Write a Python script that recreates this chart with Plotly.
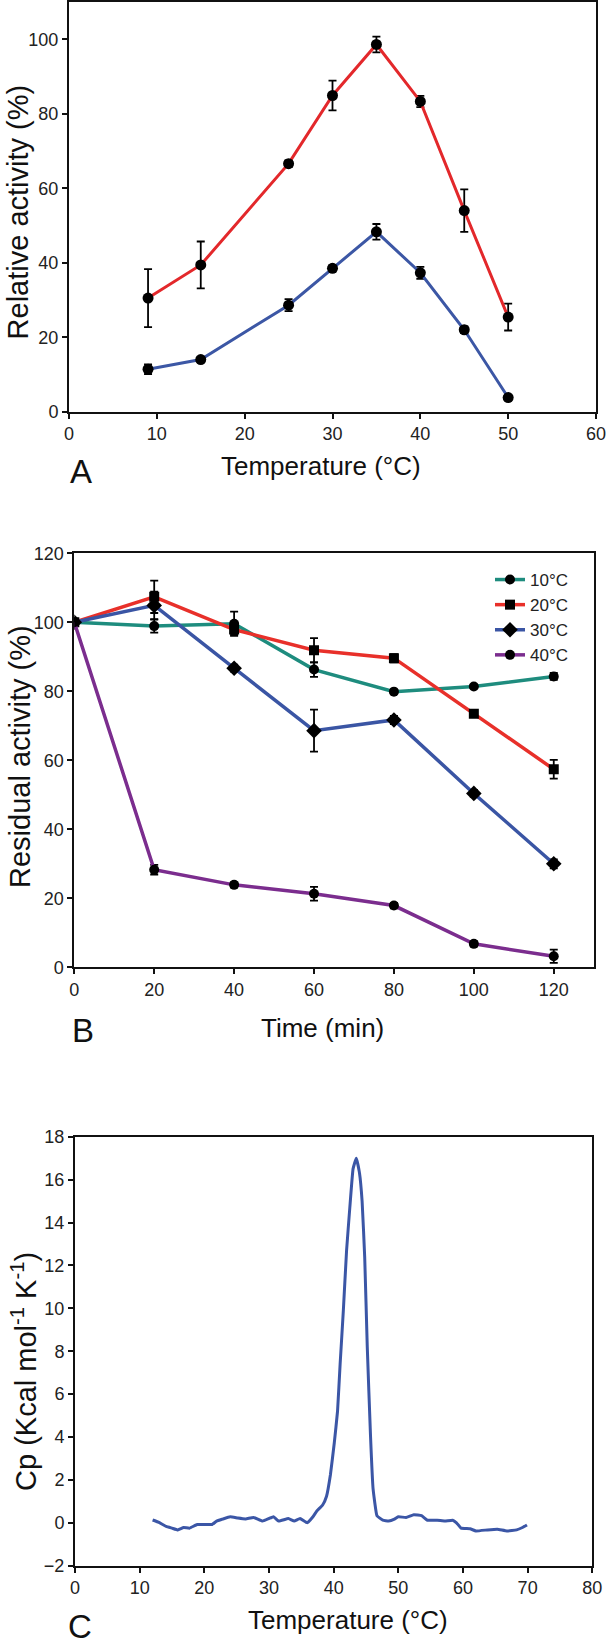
import plotly.graph_objects as go

# %% Daten Panel A: Temperaturoptimum
temp_a = [9, 15, 25, 30, 35, 40, 45, 50]
rot_a = [30.5, 39.4, 66.6, 84.9, 98.6, 83.3, 54.0, 25.4]
rot_a_err = [7.8, 6.3, 0.9, 4.0, 2.1, 1.5, 5.7, 3.6]
blau_a = [11.4, 14.0, 28.6, 38.5, 48.3, 37.3, 22.0, 3.8]
blau_a_err = [1.3, 0.7, 1.6, 0.8, 2.1, 1.6, 0.9, 0.5]

# %% Daten Panel B: Stabilitaet ueber Zeit
zeit_b = [0, 20, 40, 60, 80, 100, 120]
namen_b = ["10°C", "20°C", "30°C", "40°C"]
werte_10 = [100, 98.9, 99.6, 86.3, 79.9, 81.4, 84.3]
fehler_10 = [0.5, 1.9, 3.5, 2.1, 0.6, 0.5, 1.0]
werte_20 = [100, 107.4, 97.9, 91.9, 89.6, 73.5, 57.4]
fehler_20 = [0.5, 4.7, 1.5, 3.5, 1.2, 1.0, 2.7]
werte_30 = [100, 104.9, 86.7, 68.6, 71.7, 50.4, 30.0]
fehler_30 = [0.5, 4.0, 1.0, 6.1, 1.2, 1.0, 1.3]
werte_40 = [100, 28.3, 23.9, 21.3, 17.9, 6.8, 3.2]
fehler_40 = [0.5, 1.4, 0.7, 2.0, 0.8, 0.7, 1.9]

# %% Daten Panel C: DSC-Kurve
temp_c = [12.0, 12.9, 14.1, 15.0, 15.9, 16.8, 17.7, 18.9, 20.1, 21.2, 21.9, 22.8,
          24.0, 25.2, 26.4, 27.6, 29.0, 30.0, 30.7, 31.5, 33.0, 33.9, 34.8, 35.9,
          36.8, 37.4, 38.3, 38.9, 39.5, 40.1, 40.6, 41.0, 41.5, 42.0, 42.5, 43.0,
          43.5, 44.0, 44.4, 44.8, 45.2, 45.7, 46.1, 46.7, 47.6, 48.5, 49.4, 50.0,
          51.2, 52.4, 53.6, 54.5, 56.0, 57.2, 58.4, 59.0, 59.7, 61.1, 62.0, 63.8,
          65.3, 66.8, 68.3, 69.2, 69.9]
cp_c = [0.13, 0.03, -0.17, -0.25, -0.33, -0.22, -0.25, -0.08, -0.08, -0.08, 0.08, 0.17,
        0.28, 0.22, 0.18, 0.25, 0.08, 0.20, 0.28, 0.08, 0.20, 0.08, 0.20, 0.0,
        0.28, 0.55, 0.83, 1.24, 2.24, 3.73, 5.2, 7.4, 9.9, 12.7, 14.7, 16.5,
        17.0, 16.3, 15.0, 12.4, 8.2, 4.06, 1.58, 0.33, 0.12, 0.08, 0.17, 0.28,
        0.25, 0.38, 0.33, 0.12, 0.12, 0.08, 0.12, 0.0, -0.25, -0.28, -0.38, -0.33,
        -0.30, -0.38, -0.33, -0.22, -0.10]

# %% Farben
rot = "#e3282b"
blau = "#3c57a5"
farben_b = ["#1e8c7e", "#e8302a", "#3a55a4", "#7b2d8e"]
symbole_b = ["circle", "square", "diamond", "circle"]

W, H = 607, 1638
tick_font = dict(family="Liberation Sans Narrow, Arial Narrow, Liberation Sans, Arial", size=18, color="#222")
titel_font = "Liberation Sans, Arial, Helvetica"


def px_x(p):
    return p / W


def px_y(p):
    return 1 - p / H


fig = go.Figure()

# Panel A
for werte, fehler, farbe in [(rot_a, rot_a_err, rot), (blau_a, blau_a_err, blau)]:
    fig.add_trace(go.Scatter(
        x=temp_a, y=werte, mode="lines+markers",
        line=dict(color=farbe, width=3),
        marker=dict(color="black", size=11),
        error_y=dict(type="data", array=fehler, color="black", thickness=1.8, width=4),
        xaxis="x", yaxis="y", showlegend=False
    ))

# Panel B
for name, werte, fehler, farbe, symbol in zip(
        namen_b,
        [werte_10, werte_20, werte_30, werte_40],
        [fehler_10, fehler_20, fehler_30, fehler_40],
        farben_b, symbole_b):
    fig.add_trace(go.Scatter(
        x=zeit_b, y=werte, mode="lines+markers", name=name,
        line=dict(color=farbe, width=3.5),
        marker=dict(color="black", size=10 if symbol != "diamond" else 12, symbol=symbol),
        error_y=dict(type="data", array=fehler, color="black", thickness=1.8, width=4),
        xaxis="x2", yaxis="y2"
    ))

# Panel C
fig.add_trace(go.Scatter(
    x=temp_c, y=cp_c, mode="lines",
    line=dict(color="#3b56a6", width=3, shape="spline", smoothing=0.3),
    xaxis="x3", yaxis="y3", showlegend=False
))

achse = dict(
    showline=True, linecolor="#111", linewidth=2, mirror=True,
    ticks="outside", ticklen=5, tickwidth=2, tickcolor="#111",
    tickfont=tick_font, showgrid=False, zeroline=False, automargin=False
)

fig.update_layout(
    width=W, height=H,
    margin=dict(l=0, r=0, t=0, b=0),
    paper_bgcolor="white", plot_bgcolor="white",
    xaxis=dict(achse, domain=[px_x(69), px_x(596)], range=[0, 60], dtick=10, anchor="y"),
    yaxis=dict(achse, domain=[px_y(411.7), px_y(2)], range=[0, 110], tickvals=[0, 20, 40, 60, 80, 100], anchor="x"),
    xaxis2=dict(achse, domain=[px_x(74.3), px_x(593.7)], range=[0, 130], tickvals=[0, 20, 40, 60, 80, 100, 120], anchor="y2"),
    yaxis2=dict(achse, domain=[px_y(967.3), px_y(553.3)], range=[0, 120], dtick=20, anchor="x2"),
    xaxis3=dict(achse, domain=[px_x(75), px_x(592.3)], range=[0, 80], dtick=10, anchor="y3"),
    yaxis3=dict(achse, domain=[px_y(1565.7), px_y(1136.7)], range=[-2, 18], dtick=2, anchor="x3"),
    legend=dict(
        x=px_x(490), y=px_y(562), xanchor="left", yanchor="top",
        font=dict(family=titel_font, size=17, color="#222"),
        bgcolor="rgba(0,0,0,0)", tracegroupgap=0, itemwidth=30
    ),
)

# Achsentitel und Panelbuchstaben
texte = [
    ("Relative activity (%)", 18.4, 212, 29, -90),
    ("Temperature (°C)", 321, 466, 26, 0),
    ("A", 81, 472, 33, 0),
    ("Residual activity (%)", 20, 757, 29, -90),
    ("Time (min)", 322, 1028, 26, 0),
    ("B", 83, 1030, 33, 0),
    ("Cp (Kcal mol<sup>-1</sup> K<sup>-1</sup>)", 24, 1372, 29, -90),
    ("Temperature (°C)", 348, 1620, 26, 0),
    ("C", 80, 1626, 33, 0),
]
for text, x, y, size, winkel in texte:
    fig.add_annotation(
        text=text, x=px_x(x), y=px_y(y), xref="paper", yref="paper",
        xanchor="center", yanchor="middle", showarrow=False, textangle=winkel,
        font=dict(family=titel_font, size=size, color="#111")
    )

# Seitenrand des Browsers entfernen, damit die Grafik bei 0,0 beginnt
fig.write_html(
    "out.html",
    config={"displayModeBar": False},
    post_script="document.body.style.margin='0';document.body.style.overflow='hidden';"
)
